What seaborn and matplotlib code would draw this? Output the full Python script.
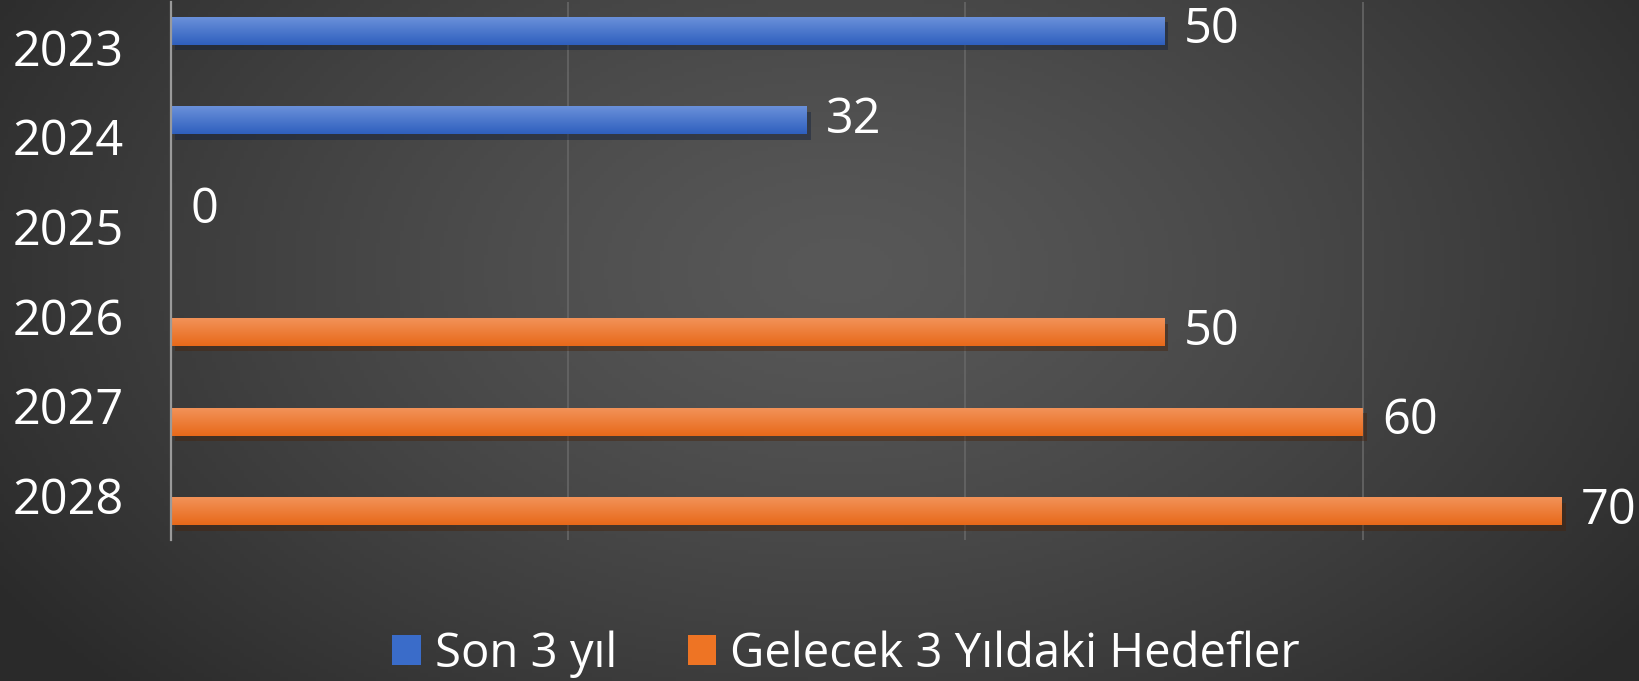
import numpy as np
import pandas as pd
import matplotlib
matplotlib.use('Agg')
import matplotlib.pyplot as plt
import matplotlib.patheffects as pe
from matplotlib.patches import Patch
import seaborn as sns

years = ['2023', '2024', '2025', '2026', '2027', '2028']
son_3_yil = [50, 32, 0, None, None, None]
gelecek_hedefler = [None, None, None, 50, 60, 70]
series_names = ['Son 3 yıl', 'Gelecek 3 Yıldaki Hedefler']
colors = ['#3a6cc9', '#ee7424']
bar_grad = [('#6a90da', '#2f60be'), ('#f29258', '#e8691a')]

df = pd.DataFrame({
    'year': years * 2,
    'series': [series_names[0]] * len(years) + [series_names[1]] * len(years),
    'value': son_3_yil + gelecek_hedefler,
}).dropna()

plt.rcParams['font.family'] = ['Open Sans', 'DejaVu Sans']
fs = 35

fig = plt.figure(figsize=(16.4, 6.81), dpi=100)

# radial dark background
bg = fig.add_axes([0, 0, 1, 1], zorder=0)
xx, yy = np.meshgrid(np.linspace(0, 1640, 410), np.linspace(0, 681, 171))
r = np.sqrt(((xx - 840) / 1000) ** 2 + ((yy - 270) / 620) ** 2)
r = np.clip(r, 0, 1)
g = (0x58 + (0x2a - 0x58) * r ** 1.3) / 255
bg.imshow(np.dstack([g, g, g]), extent=[0, 1, 0, 1], aspect='auto', origin='upper')
bg.axis('off')

ax = fig.add_axes([171 / 1640, 141 / 681, 1589 / 1640, 538 / 681], zorder=1)
ax.set_facecolor('none')

sns.barplot(data=df, x='value', y='year', hue='series', order=years,
            hue_order=series_names, palette=colors, saturation=1, dodge=True,
            width=0.72, gap=0.14, orient='h', legend=False, ax=ax)

ylim = ax.get_ylim()
for cont, (c_top, c_bot) in zip(ax.containers, bar_grad):
    for p in cont.patches:
        p.set_path_effects([pe.SimplePatchShadow(offset=(3, -4), alpha=0.45), pe.Normal()])
        x0, y0, w, h = p.get_x(), p.get_y(), p.get_width(), p.get_height()
        if w <= 0:
            continue
        t = np.linspace(0, 1, 32)[:, None]
        c1 = np.array(matplotlib.colors.to_rgb(c_top))
        c2 = np.array(matplotlib.colors.to_rgb(c_bot))
        img = (c1 + (c2 - c1) * t)[:, None, :] * np.ones((1, 2, 1))
        ax.imshow(img, extent=(x0, x0 + w, y0, y0 + h), origin='lower',
                  aspect='auto', zorder=p.get_zorder() + 0.1)
    ax.bar_label(cont, fmt='%g', padding=14, color='white', fontsize=fs)

ax.set_xlim(0, 80)
ax.set_ylim(ylim)
ax.set_xticks([20, 40, 60, 80])
ax.xaxis.grid(True, color='#666666', lw=1.2)
ax.set_axisbelow(True)
ax.tick_params(axis='x', length=0, labelbottom=False)
ax.tick_params(axis='y', length=0, pad=34, labelsize=fs, labelcolor='white')
ax.set_xlabel('')
ax.set_ylabel('')
for s in ['top', 'right', 'bottom']:
    ax.spines[s].set_visible(False)
ax.spines['left'].set_color('#9a9a9a')
ax.spines['left'].set_linewidth(1.6)

handles = [Patch(facecolor=c, label=n) for c, n in zip(colors, series_names)]
fig.legend(handles=handles, loc='center', bbox_to_anchor=(0.516, 0.04), ncol=2,
           frameon=False, fontsize=34, labelcolor='white', handlelength=0.6,
           handleheight=0.6, handletextpad=0.3, columnspacing=1.5)

fig.savefig('out.png', dpi=100)
